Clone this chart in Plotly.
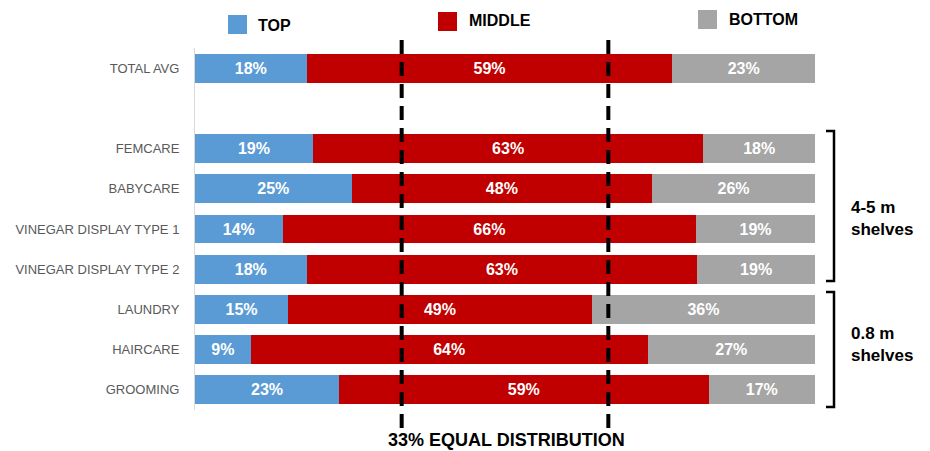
import plotly.graph_objects as go

# Shelf-position share per category (percent of facings)
categories = ["TOTAL AVG", "", "FEMCARE", "BABYCARE", "VINEGAR DISPLAY TYPE 1",
              "VINEGAR DISPLAY TYPE 2", "LAUNDRY", "HAIRCARE", "GROOMING"]
top_vals = [18, None, 19, 25, 14, 18, 15, 9, 23]
middle_vals = [59, None, 63, 48, 66, 63, 49, 64, 59]
bottom_vals = [23, None, 18, 26, 19, 19, 36, 27, 17]

series_names = ["TOP", "MIDDLE", "BOTTOM"]
series_colors = ["#5B9BD5", "#C00000", "#A5A5A5"]
equal_share = [100 / 3, 200 / 3]

group_labels = ["4-5 m<br>shelves", "0.8 m<br>shelves"]
note_text = "33% EQUAL DISTRIBUTION"

FONT = "Liberation Sans, Arial, sans-serif"
positions = list(range(len(categories)))

# plot area in pixels
L, R, T, B = 195, 815, 48, 410
W, H = 930, 451


def px_x(px):
    return (px - L) / (R - L)


def px_y(py):
    return (B - py) / (B - T)


fig = go.Figure()
for name, vals, color in zip(series_names, [top_vals, middle_vals, bottom_vals], series_colors):
    fig.add_trace(go.Bar(
        y=positions, x=vals, name=name, orientation="h",
        marker=dict(color=color, line=dict(width=0)),
        width=0.72,
        text=[f"{v}%" if v is not None else "" for v in vals],
        textposition="inside", insidetextanchor="middle",
        textangle=0,
        textfont=dict(family=FONT, size=16, color="white", weight="bold"),
        showlegend=False,
    ))

shapes = []
# dashed reference lines at one-third and two-thirds
for xv in equal_share:
    shapes.append(dict(type="line", xref="x", yref="paper", x0=xv, x1=xv,
                       y0=px_y(428), y1=px_y(35),
                       line=dict(color="black", width=4, dash="14px,8px"),
                       layer="above"))

# legend swatches
legend_pos = [(228, 15), (438, 12), (698, 10)]
for (sx, sy), color in zip(legend_pos, series_colors):
    shapes.append(dict(type="rect", xref="paper", yref="paper",
                       x0=px_x(sx), x1=px_x(sx + 19), y0=px_y(sy + 19), y1=px_y(sy),
                       fillcolor=color, line=dict(width=0)))

# group brackets
for top_px, bot_px in [(131, 281), (292, 407)]:
    x_in, x_out = px_x(826), px_x(834)
    y_t, y_b = px_y(top_px), px_y(bot_px)
    shapes.append(dict(type="path", xref="paper", yref="paper",
                       path=f"M {x_in},{y_t} L {x_out},{y_t} L {x_out},{y_b} L {x_in},{y_b}",
                       line=dict(color="black", width=2.5)))

annotations = []
legend_text_pos = [(256, 25), (467, 21), (727, 20)]
for (tx, ty), name in zip(legend_text_pos, series_names):
    annotations.append(dict(xref="paper", yref="paper", x=px_x(tx), y=px_y(ty),
                            text=name, showarrow=False, xanchor="left", yanchor="middle",
                            font=dict(family=FONT, size=16, color="black", weight="bold")))

for label, cy in zip(group_labels, [219, 344]):
    annotations.append(dict(xref="paper", yref="paper", x=px_x(849), y=px_y(cy),
                            text=label, showarrow=False, xanchor="left", yanchor="middle",
                            align="left",
                            font=dict(family=FONT, size=17, color="black", weight="bold")))

annotations.append(dict(xref="paper", yref="paper", x=px_x(506), y=px_y(440),
                        text=note_text, showarrow=False, xanchor="center", yanchor="middle",
                        font=dict(family=FONT, size=18, color="black", weight="bold")))

fig.update_layout(
    width=W, height=H,
    margin=dict(l=L, r=W - R, t=T, b=H - B, pad=0),
    barmode="stack", barnorm="percent",
    plot_bgcolor="white", paper_bgcolor="white",
    shapes=shapes, annotations=annotations,
    xaxis=dict(range=[0, 100], visible=False, fixedrange=True),
    yaxis=dict(tickvals=positions, ticktext=categories, range=[8.5, -0.5],
               showline=True, linecolor="#D9D9D9", linewidth=1,
               showgrid=False, zeroline=False, ticks="",
               ticklabelstandoff=12,
               tickfont=dict(family=FONT, size=13, color="#595959")),
    uniformtext=dict(mode=False),
)

fig.write_html("out.html")
